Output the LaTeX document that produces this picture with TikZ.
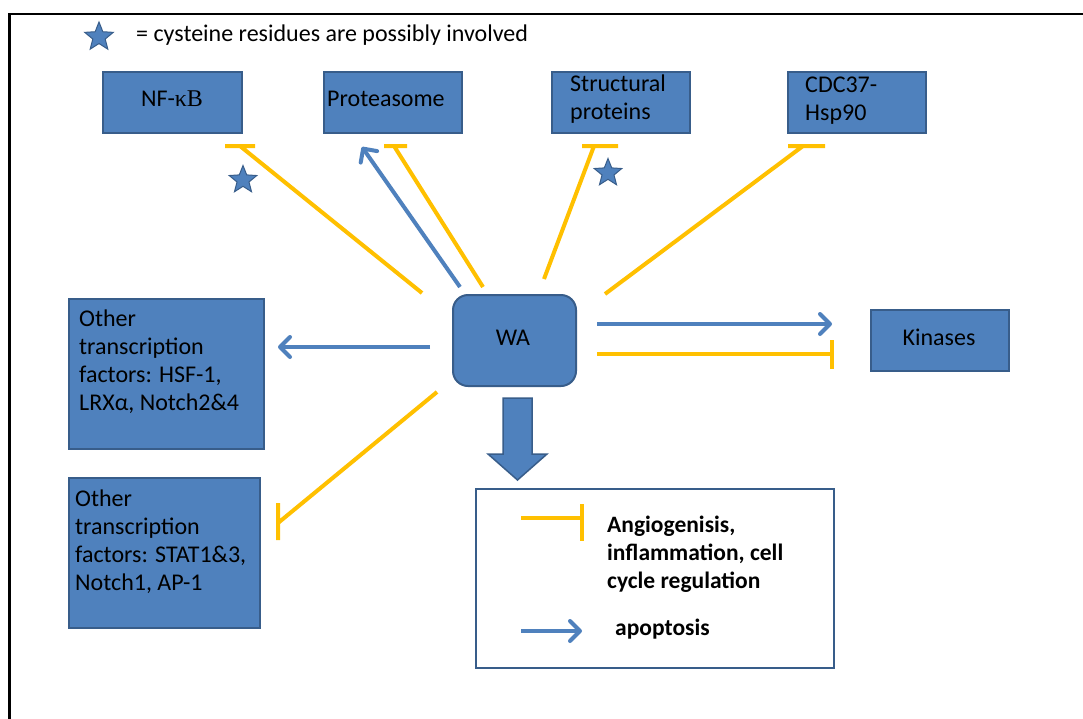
\documentclass[tikz,border=0pt]{standalone}
\usepackage{fontspec}
\setmainfont{Carlito}
\newfontfamily\serifk{Liberation Serif}
\usetikzlibrary{arrows.meta,shapes.geometric}
\definecolor{boxblue}{HTML}{4F81BD}
\definecolor{boxedge}{HTML}{385D8A}
\definecolor{inhib}{HTML}{FFC000}
\begin{document}
\begin{tikzpicture}[x=1pt,y=-1pt,
  every node/.style={font=\fontsize{24}{28}\selectfont},
  bluebox/.style={draw=boxedge,line width=2pt,fill=boxblue,inner sep=0pt,anchor=north west},
  txt/.style={anchor=west,inner sep=0pt,align=left},
  ctxt/.style={anchor=center,inner sep=0pt},
  inhibline/.style={draw=inhib,line width=4pt},
  actline/.style={draw=boxblue,line width=4pt,-{Straight Barb[length=10pt,width=20pt,round]}},
  cys/.style={star,star points=5,star point ratio=2.3,fill=boxblue,draw=boxedge,line width=1pt,minimum size=30pt,inner sep=0pt}
]
\useasboundingbox (0,0) rectangle (1083,718);
\fill[white] (0,0) rectangle (1083,718);
% frame
\draw[line width=2.5pt] (1090,14) -- (9.5,14) -- (9.5,725);

% legend star
\node[cys] (star0) at (99,37) {};
\node[txt] (startxt) at (136,35) {= cysteine residues are possibly involved};

% top boxes
\node[bluebox,minimum width=139pt,minimum height=61pt] (nfkb) at (102,71) {};
\node[ctxt] (nfkbt) at (172,99) {NF-{\serifk κB}};
\node[bluebox,minimum width=138pt,minimum height=61pt] (prot) at (323,71) {};
\node[txt] (prott) at (327,99) {Proteasome};
\node[bluebox,minimum width=138pt,minimum height=61pt] (struct) at (551,71) {};
\node[txt] (structt) at (570,99.5) {Structural\\proteins};
\node[bluebox,minimum width=138pt,minimum height=61pt] (cdc) at (787,71) {};
\node[txt] (cdct) at (805,100.5) {CDC37-\\Hsp90};

% WA
\node[bluebox,rounded corners=15pt,minimum width=123pt,minimum height=91pt] (wa) at (452,294) {};
\node[ctxt] (wat) at (513,338) {WA};
% Kinases
\node[bluebox,minimum width=138pt,minimum height=61pt] (kin) at (870,309) {};
\node[ctxt] (kint) at (939,337) {Kinases};
% left boxes
\node[bluebox,minimum width=195pt,minimum height=150pt] (tf1) at (68,298) {};
\node[txt] (tf1t) at (79,362) {Other\\transcription\\factors: HSF-1,\\LRXα, Notch2\&4};
\node[bluebox,minimum width=191pt,minimum height=150pt] (tf2) at (68,477) {};
\node[txt] (tf2t) at (75,541.5) {Other\\transcription\\factors: STAT1\&3,\\Notch1, AP-1};

% legend box
\node[draw=boxedge,line width=2pt,fill=white,inner sep=0pt,anchor=north west,minimum width=358pt,minimum height=179pt] (leg) at (475,488) {};
\node[txt,font=\fontsize{23.5}{28}\selectfont\bfseries] (legt1) at (607,554) {Angiogenisis,\\inflammation, cell\\cycle regulation};
\node[txt,font=\fontsize{23.5}{28}\selectfont\bfseries] (legt2) at (615,629) {apoptosis};

% stars
\node[cys,minimum size=29pt] (star1) at (243,180) {};
\node[cys,minimum size=29pt] (star2) at (608,173) {};

% coordinates
\coordinate (c-nf0) at (422,293); \coordinate (c-nf1) at (240,146);
\coordinate (c-pa0) at (460,287); \coordinate (c-pa1) at (362,147);
\coordinate (c-pi0) at (483,287); \coordinate (c-pi1) at (394,146);
\coordinate (c-st0) at (544,279); \coordinate (c-st1) at (594,146);
\coordinate (c-cd0) at (605,294); \coordinate (c-cd1) at (803,146);
\coordinate (c-l10) at (430,347); \coordinate (c-l11) at (278,347);
\coordinate (c-l20) at (437,392); \coordinate (c-l21) at (278,523);
\coordinate (c-ka0) at (597,324); \coordinate (c-ka1) at (832,324);
\coordinate (c-ki0) at (597,354); \coordinate (c-ki1) at (832,354);
\coordinate (c-gi0) at (521,518); \coordinate (c-gi1) at (582,518);
\coordinate (c-ga0) at (521,631); \coordinate (c-ga1) at (582,631);

% inhibition connectors
\draw[inhibline] (c-nf0) -- (c-nf1) (225,146) -- (255,146);
\draw[inhibline] (c-pi0) -- (c-pi1) (384,146) -- (407,146);
\draw[inhibline] (c-st0) -- (c-st1) (582,146) -- (618,146);
\draw[inhibline] (c-cd0) -- (c-cd1) (788,146) -- (825,146);
\draw[inhibline] (c-l20) -- (c-l21) (278,503) -- (278,540);
\draw[inhibline] (c-ki0) -- (c-ki1) (832,340) -- (832,369);
\draw[inhibline] (c-gi0) -- (c-gi1) (582,504) -- (582,541);

% activation connectors
\draw[actline] (c-pa0) -- (c-pa1);
\draw[actline] (c-l10) -- (c-l11);
\draw[actline] (c-ka0) -- (c-ka1);
\draw[actline] (c-ga0) -- (c-ga1);

% big down arrow
\draw[fill=boxblue,draw=boxedge,line width=1.5pt] (503,398) -- (532,398) -- (532,454) -- (547,454) -- (517.5,480) -- (488,454) -- (503,454) -- cycle;
\end{tikzpicture}
\end{document}
